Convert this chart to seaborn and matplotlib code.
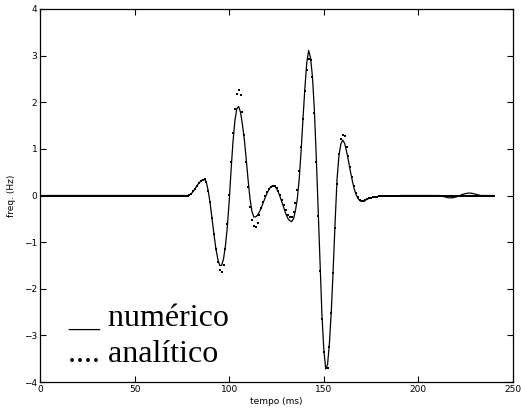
import matplotlib
matplotlib.use("Agg")
import matplotlib.pyplot as plt
import seaborn as sns
import pandas as pd

# time axis (ms), 1 ms sampling
tempo = list(range(0, 241))

numerico = ([0.0] * 78 + [
    0.0, 0.01, 0.04, 0.09, 0.15, 0.21, 0.27, 0.31, 0.34, 0.35,           # 78-87
    0.27, 0.08, -0.19, -0.52, -0.85, -1.15, -1.37, -1.50, -1.50, -1.36,  # 88-97
    -1.08, -0.68, -0.12, 0.55, 1.15, 1.60, 1.86, 1.91, 1.78, 1.52,       # 98-107
    1.20, 0.78, 0.33, -0.07, -0.34, -0.46, -0.46, -0.42, -0.35, -0.26,   # 108-117
    -0.15, -0.05, 0.05, 0.13, 0.19, 0.21, 0.20, 0.15, 0.07, -0.04,       # 118-127
    -0.16, -0.28, -0.40, -0.49, -0.54, -0.56, -0.50, -0.33, -0.07, 0.35, # 128-137
    0.95, 1.65, 2.30, 2.85, 3.11, 2.95, 2.55, 1.85, 0.85, -0.30,         # 138-147
    -1.50, -2.55, -3.30, -3.72, -3.62, -3.15, -2.45, -1.55, -0.55, 0.35, # 148-157
    0.85, 1.10, 1.19, 1.12, 0.95, 0.75, 0.53, 0.33, 0.15, 0.03,          # 158-167
    -0.06, -0.11, -0.13, -0.12, -0.10, -0.08, -0.06, -0.05, -0.04, -0.03,# 168-177
    -0.03, -0.02, -0.02,                                                  # 178-180
] + [-0.01] * 9 + [0.0] * 22 + [
    -0.01, -0.02, -0.03, -0.04, -0.05, -0.05, -0.05, -0.04, -0.03, -0.01, # 212-221
    0.0, 0.02, 0.03, 0.04, 0.05, 0.05, 0.05, 0.04, 0.03, 0.02, 0.01,      # 222-232
] + [0.0] * 8)

analitico = ([0.0] * 78 + [
    0.0, 0.01, 0.04, 0.09, 0.15, 0.21, 0.27, 0.31, 0.34, 0.35,           # 78-87
    0.28, 0.10, -0.15, -0.48, -0.82, -1.15, -1.42, -1.60, -1.65, -1.50,  # 88-97
    -1.15, -0.62, 0.02, 0.72, 1.35, 1.85, 2.17, 2.27, 2.15, 1.80,        # 98-107
    1.30, 0.72, 0.18, -0.25, -0.52, -0.65, -0.68, -0.58, -0.42, -0.27,   # 108-117
    -0.13, -0.02, 0.07, 0.14, 0.19, 0.21, 0.20, 0.16, 0.10, 0.01,        # 118-127
    -0.09, -0.20, -0.32, -0.42, -0.47, -0.46, -0.36, -0.17, 0.12, 0.52,  # 128-137
    1.05, 1.65, 2.25, 2.70, 2.92, 2.90, 2.55, 1.78, 0.72, -0.45,         # 138-147
    -1.63, -2.65, -3.35, -3.69, -3.70, -3.25, -2.52, -1.66, -0.70, 0.25, # 148-157
    0.90, 1.22, 1.30, 1.28, 1.05, 0.85, 0.62, 0.40, 0.20, 0.06,          # 158-167
    -0.04, -0.10, -0.12, -0.12, -0.10, -0.08, -0.06, -0.05, -0.04, -0.03,# 168-177
    -0.03, -0.02, -0.02,                                                  # 178-180
] + [-0.01] * 9 + [0.0] * 51)

xticks = [0, 50, 100, 150, 200, 250]
yticks = [-4, -3, -2, -1, 0, 1, 2, 3, 4]
legend_lines = ["__ numérico", ".... analítico"]

df = pd.DataFrame({"tempo": tempo, "numerico": numerico, "analitico": analitico})

sns.set_style("ticks")
plt.rcParams["font.family"] = ["DejaVu Sans"]
plt.rcParams["text.color"] = "black"
plt.rcParams["axes.labelcolor"] = "black"
plt.rcParams["xtick.color"] = "black"
plt.rcParams["ytick.color"] = "black"

fig = plt.figure(figsize=(5.21, 4.13), dpi=100)
ax = fig.add_axes([40 / 521, 31 / 413, 473 / 521, 373 / 413])

sns.lineplot(data=df, x="tempo", y="numerico", color="black", linewidth=0.9, ax=ax)
sns.scatterplot(data=df, x="tempo", y="analitico", color="black", marker="s",
                s=1.6, linewidth=0, ax=ax)

ax.set_xlim(0, 250)
ax.set_ylim(-4, 4)
ax.set_xticks(xticks)
ax.set_yticks(yticks)
ax.set_yticklabels([str(v).replace("-", "\u2212") for v in yticks])
ax.tick_params(direction="in", length=4, width=0.8, labelsize=6.5, colors="black",
               top=True, right=True, pad=2)
for s in ax.spines.values():
    s.set_visible(True)
    s.set_linewidth(0.9)
    s.set_color("black")

ax.set_xlabel("tempo (ms)", fontsize=6.5, labelpad=2, color="black")
ax.set_ylabel("freq. (Hz)", fontsize=6.5, labelpad=6, color="black")

ax.text(14.8, -2.80, legend_lines[0], fontsize=23, family="Liberation Serif",
        va="baseline", ha="left", color="black")
ax.text(14.8, -3.57, legend_lines[1], fontsize=23, family="Liberation Serif",
        va="baseline", ha="left", color="black")

fig.savefig("out.png", dpi=100)
